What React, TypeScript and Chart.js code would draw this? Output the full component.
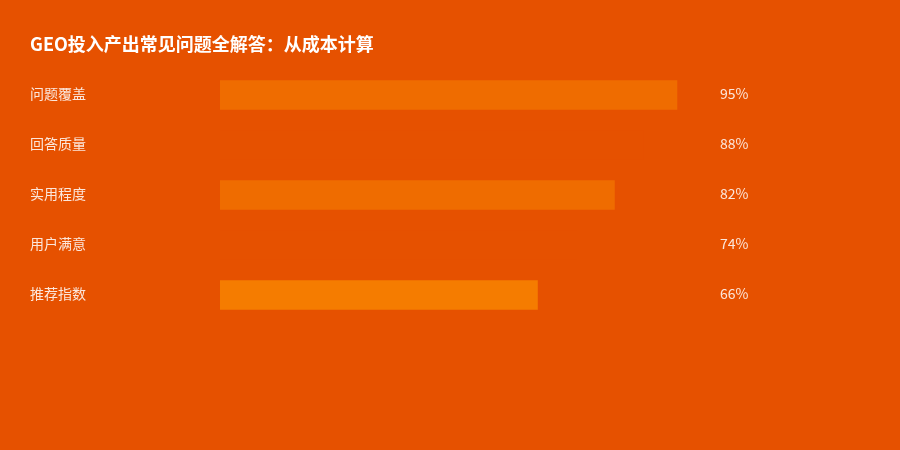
import React, { useEffect, useRef } from "react";
import { Chart, registerables } from "chart.js";

Chart.register(...registerables);

const TITLE = "GEO投入产出常见问题全解答：从成本计算";
const categories = ["问题覆盖", "回答质量", "实用程度", "用户满意", "推荐指数"];
const values = [95, 88, 82, 74, 66];
const barColors = ["#EF6C00", "#E65100", "#EF6C00", "#E65100", "#F57C00"];
const valueLabels = ["95%", "88%", "82%", "74%", "66%"];

const BG = "#E65100";
const FONT = "'Noto Sans CJK SC', 'Noto Sans', sans-serif";

const textPlugin = {
  id: "textPlugin",
  afterDatasetsDraw(chart: any) {
    const { ctx } = chart;
    const y = chart.scales.y;
    ctx.save();
    ctx.fillStyle = "#FFFFFF";
    ctx.font = `bold 18px ${FONT}`;
    ctx.textAlign = "left";
    ctx.textBaseline = "middle";
    ctx.fillText(TITLE, 30, 44);
    ctx.font = `14px ${FONT}`;
    ctx.fillStyle = "rgba(255,255,255,0.86)";
    categories.forEach((c, i) => {
      const py = y.getPixelForValue(i) - 1;
      ctx.fillText(c, 30, py);
      ctx.fillText(valueLabels[i], 720, py);
    });
    ctx.restore();
  },
};

export default function App() {
  const ref = useRef<HTMLCanvasElement | null>(null);
  useEffect(() => {
    document.body.style.margin = "0";
    const chart = new Chart(ref.current!, {
      type: "bar",
      data: {
        labels: categories,
        datasets: [
          {
            data: values,
            backgroundColor: barColors,
            borderWidth: 0,
            barThickness: 29,
          },
        ],
      },
      options: {
        indexAxis: "y",
        animation: false,
        responsive: false,
        devicePixelRatio: 1,
        layout: { padding: { left: 220, right: 199, top: 70, bottom: 130 } },
        plugins: { legend: { display: false }, tooltip: { enabled: false }, title: { display: false } },
        scales: {
          x: { min: 0, max: 100, display: false, grid: { display: false } },
          y: { display: false, grid: { display: false } },
        },
      },
      plugins: [textPlugin],
    });
    return () => chart.destroy();
  }, []);
  return (
    <div style={{ position: "fixed", left: 0, top: 0, width: 900, height: 450, background: BG }}>
      <canvas ref={ref} width={900} height={450} style={{ display: "block", width: 900, height: 450 }} />
    </div>
  );
}
